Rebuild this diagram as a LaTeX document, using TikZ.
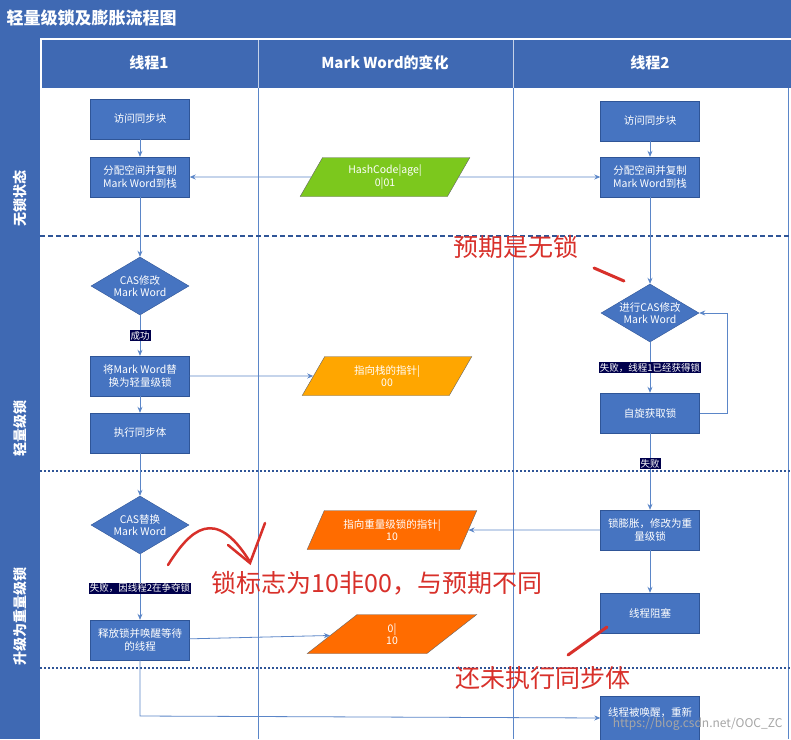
\documentclass[tikz,border=0pt]{standalone}
\usepackage{fontspec}
\setmainfont{Noto Sans CJK SC}
\usetikzlibrary{shapes.geometric,arrows.meta}
\definecolor{band}{HTML}{3F69B3}
\definecolor{boxc}{HTML}{4674C1}
\definecolor{boxd}{HTML}{2F5597}
\definecolor{lane}{HTML}{5B86C8}
\definecolor{pen}{HTML}{D8302A}
\definecolor{grass}{HTML}{7CC81D}
\begin{document}
\begin{tikzpicture}[x=1pt,y=-1pt,>={Stealth[length=6pt,width=5pt]}]

% node style definition
\tikzstyle{block} = [
	draw=boxd, fill=boxc, rectangle, text=white, align=center,
	font=\fontsize{10.5}{12.5}\selectfont,
	minimum height=40, minimum width=99, inner sep=1pt ];
\tikzstyle{choice} = [
	draw=boxd, fill=boxc, diamond, aspect=1.7, text=white, align=center,
	font=\fontsize{10.5}{12.5}\selectfont,
	minimum height=58, minimum width=98, inner sep=0pt ];
\tikzstyle{data} = [
	trapezium, trapezium left angle=65, trapezium right angle=115,
	trapezium stretches=true, draw=black!60, text=white, align=center,
	font=\fontsize{10.5}{12.5}\selectfont,
	minimum height=39, minimum width=170 ];
\tikzstyle{tag} = [fill=black!70!blue, text=white, inner sep=1pt,
	font=\fontsize{9.5}{10}\selectfont];
\tikzstyle{link} = [draw=lane, line width=0.8pt, ->];
\tikzstyle{note} = [text=pen, font=\fontsize{25}{27}\selectfont, anchor=west];

\useasboundingbox (0,0) rectangle (791,739);
\fill[white] (0,0) rectangle (791,739);

% bands
\fill[band] (0,0) rectangle (791,38);
\fill[band] (0,38) rectangle (40,739);
\fill[band] (42,40) rectangle (791,88);
\draw[white!70!band] (258,40) -- (258,88) (513,40) -- (513,88);
\draw[lane] (258,88) -- (258,739) (513,88) -- (513,739) (788,88) -- (788,739);
\node[text=white, font=\bfseries\fontsize{17}{19}\selectfont, anchor=west] (title) at (3,18) {轻量级锁及膨胀流程图};
\node[text=white, font=\bfseries\fontsize{15}{17}\selectfont] (h1) at (149,63) {线程1};
\node[text=white, font=\bfseries\fontsize{15}{17}\selectfont] (h2) at (385,63) {Mark Word的变化};
\node[text=white, font=\bfseries\fontsize{15}{17}\selectfont] (h3) at (650,63) {线程2};
\node[text=white, font=\bfseries\fontsize{14}{16}\selectfont, rotate=90] (s1) at (20,198) {无锁状态};
\node[text=white, font=\bfseries\fontsize{14}{16}\selectfont, rotate=90] (s2) at (20,428) {轻量级锁};
\node[text=white, font=\bfseries\fontsize{14}{16}\selectfont, rotate=90] (s3) at (20,616) {升级为重量级锁};
\draw[boxd, dashed, line width=1.3pt, dash pattern=on 5pt off 3pt] (40,236) -- (791,236);
\draw[boxd, line width=1.6pt, dash pattern=on 2pt off 2pt] (40,471) -- (791,471);
\draw[boxd, line width=1.6pt, dash pattern=on 2pt off 2pt] (40,668) -- (791,668);

% thread 1
\node[block] (a1) at (140,119) {访问同步块};
\node[block] (a2) at (140,177) {分配空间并复制\\Mark Word到栈};
\node[choice] (a3) at (140,286) {CAS修改\\Mark Word};
\node[block] (a4) at (140,376) {将Mark Word替\\换为轻量级锁};
\node[block] (a5) at (140,433) {执行同步体};
\node[choice] (a6) at (140,525) {CAS替换\\Mark Word};
\node[block] (a7) at (140,640) {释放锁并唤醒等待\\的线程};

% mark word
\node[data, fill=grass] (m1) at (385,177) {HashCode|age|\\0|01};
\node[data, fill=orange!70!yellow] (m2) at (387,376) {指向栈的指针|\\00};
\node[data, fill=orange!85!red] (m3) at (392,530) {指向重量级锁的指针|\\10};
\node[data, fill=orange!85!red] (m4) at (392,634) {0|\\10};

% thread 2
\node[block] (b1) at (650,121) {访问同步块};
\node[block] (b2) at (650,177) {分配空间并复制\\Mark Word到栈};
\node[choice] (b3) at (650,313) {进行CAS修改\\Mark Word};
\node[block] (b4) at (650,413) {自旋获取锁};
\node[block] (b5) at (650,530) {锁膨胀，修改为重\\量级锁};
\node[block] (b6) at (650,613) {线程阻塞};
\node[block, minimum height=44, anchor=north] (b7) at (650,696) {线程被唤醒，重新\\\phantom{x}};
\coordinate (c1) at (140,716);
\coordinate (c2) at (727,413);
\coordinate (c3) at (727,313);

% connectors
\draw[link] (a1) -- (a2);
\draw[link] (a2) -- (a3);
\draw[link] (a3) -- node[tag] {成功} (a4);
\draw[link] (a4) -- (m2);
\draw[link] (a4) -- (a5);
\draw[link] (a5) -- (a6);
\draw[link] (a6) -- node[tag, pos=0.52] {失败，因线程2在争夺锁} (a7);
\draw[link] (a7) -- (m4);
\draw[link] (a7) -- (c1) -- (b7);
\draw[link] (m1) -- (a2);
\draw[link] (m1) -- (b2);
\draw[link] (b1) -- (b2);
\draw[link] (b2) -- (b3);
\draw[link] (b3) -- node[tag] {失败，线程1已经获得锁} (b4);
\draw[link] (b4) -- (c2) -- (c3) -- (b3);
\draw[link] (b4) -- node[tag, pos=0.4] {失败} (b5);
\draw[link] (b5) -- (m3);
\draw[link] (b5) -- (b6);

% notes
\node[note] (n1) at (450,247) {预期是无锁};
\node[note] (n2) at (208,583) {锁标志为10非00，与预期不同};
\node[note] (n3) at (452,678) {还未执行同步体};
\draw[pen, line width=3pt, line cap=round] (594,268) -- (624,281);
\draw[pen, line width=3pt, line cap=round] (568,655) -- (607,627);
\draw[pen, line width=2.5pt, line cap=round] (168,565) .. controls (190,530) and (215,505) .. (250,562);
\draw[pen, line width=2.5pt, line cap=round] (228,545) -- (250,563) -- (265,523);
\node[text=black!35, font=\fontsize{12}{14}\selectfont, anchor=east] (wm) at (786,724) {https://blog.csdn.net/OOC\_ZC};

\end{tikzpicture}
\end{document}
